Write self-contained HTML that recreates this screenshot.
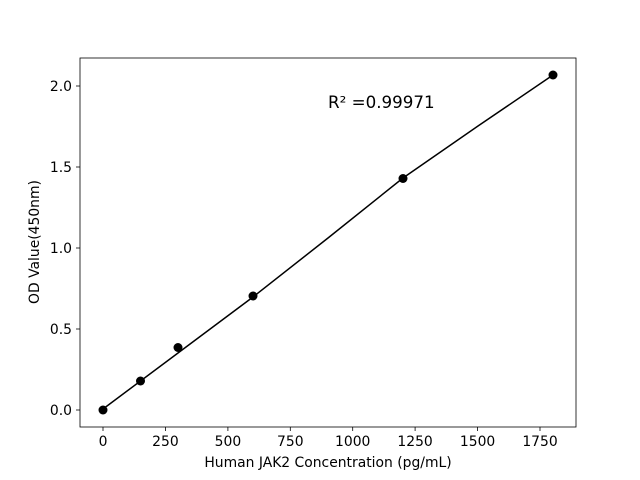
<!DOCTYPE html>
<html><head><meta charset="utf-8"><style>body{margin:0;background:#fff}svg{display:block}text{font-family:"DejaVu Sans","Liberation Sans",sans-serif;fill:#000}</style></head>
<body>
<svg width="640" height="480" viewBox="0 0 640 480" xmlns="http://www.w3.org/2000/svg">
<rect width="640" height="480" fill="#fff"/>
<rect x="80" y="58" width="496" height="369" fill="none" stroke="#000" stroke-width="0.8"/>
<g stroke="#000" stroke-width="0.8">
<line x1="103" y1="427" x2="103" y2="431"/>
<line x1="165.4" y1="427" x2="165.4" y2="431"/>
<line x1="227.9" y1="427" x2="227.9" y2="431"/>
<line x1="290.3" y1="427" x2="290.3" y2="431"/>
<line x1="352.7" y1="427" x2="352.7" y2="431"/>
<line x1="415.1" y1="427" x2="415.1" y2="431"/>
<line x1="477.6" y1="427" x2="477.6" y2="431"/>
<line x1="540" y1="427" x2="540" y2="431"/>
<line x1="76" y1="410" x2="80" y2="410"/>
<line x1="76" y1="329" x2="80" y2="329"/>
<line x1="76" y1="248" x2="80" y2="248"/>
<line x1="76" y1="167" x2="80" y2="167"/>
<line x1="76" y1="86" x2="80" y2="86"/>
</g>
<g font-size="13.9" text-anchor="middle">
<text x="103" y="446">0</text>
<text x="165.4" y="446">250</text>
<text x="227.9" y="446">500</text>
<text x="290.3" y="446">750</text>
<text x="352.7" y="446">1000</text>
<text x="415.1" y="446">1250</text>
<text x="477.6" y="446">1500</text>
<text x="540" y="446">1750</text>
<text x="328" y="467">Human JAK2 Concentration (pg/mL)</text>
</g>
<g font-size="13.9" text-anchor="end">
<text x="72" y="415">0.0</text>
<text x="72" y="334">0.5</text>
<text x="72" y="253">1.0</text>
<text x="72" y="172">1.5</text>
<text x="72" y="91">2.0</text>
</g>
<text x="39" y="242" font-size="13.9" text-anchor="middle" transform="rotate(-90 39 242)">OD Value(450nm)</text>
<text x="328" y="108" font-size="16.7">R² =0.99971</text>
<polyline points="103,409 178,353 253,297 328,238 403,178 478,126 553,75" fill="none" stroke="#000" stroke-width="1.5"/>
<g fill="#000">
<circle cx="103" cy="410" r="4.5"/>
<circle cx="140.5" cy="381" r="4.5"/>
<circle cx="178" cy="347.5" r="4.5"/>
<circle cx="253" cy="296" r="4.5"/>
<circle cx="403" cy="178.5" r="4.5"/>
<circle cx="553" cy="75" r="4.5"/>
</g>
</svg>
</body></html>
